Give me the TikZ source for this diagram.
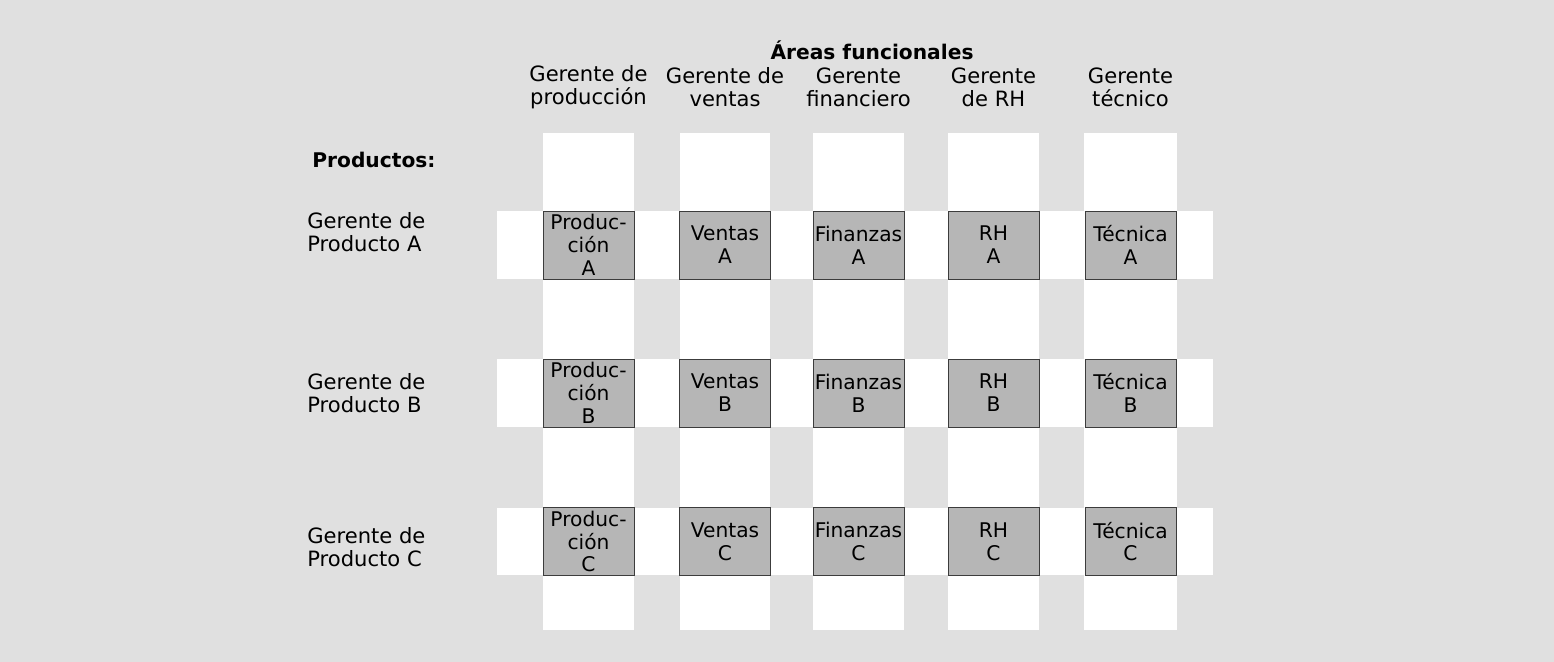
\documentclass[tikz,border=0pt]{standalone}
\usepackage{fontspec}
\setmainfont{DejaVu Sans}
\usetikzlibrary{positioning}
\definecolor{cBack}{RGB}{224,224,224}
\definecolor{cStrip}{RGB}{255,255,255}
\definecolor{cCell}{RGB}{182,182,182}
\definecolor{cCellBorder}{RGB}{60,60,60}

\begin{document}
\begin{tikzpicture}[x=0.02cm, y=-0.02cm,
        cell/.style={rectangle, draw=cCellBorder, fill=cCell, minimum width=1.82cm,
        minimum height=1.36cm, inner sep=0pt, align=center,
        font=\fontsize{11.5}{13}\selectfont},
        rowlabel/.style={anchor=west, align=left, inner sep=0pt,
        font=\fontsize{12}{13}\selectfont},
        colhead/.style={align=center, inner sep=0pt, font=\fontsize{12}{13}\selectfont},
        titletext/.style={inner sep=0pt, font=\fontsize{11.5}{13}\selectfont\bfseries}
    ]

        % background and the white grid of the matrix
        \fill[cBack] (0,0) rectangle (1554,662);
        \useasboundingbox (0,0) rectangle (1554,662);
        \fill[cStrip] (543,133) rectangle (634,630);
        \fill[cStrip] (680,133) rectangle (770,630);
        \fill[cStrip] (813,133) rectangle (904,630);
        \fill[cStrip] (948,133) rectangle (1039,630);
        \fill[cStrip] (1084,133) rectangle (1177,630);
        \fill[cStrip] (497,211) rectangle (1213,279);
        \fill[cStrip] (497,359) rectangle (1213,427);
        \fill[cStrip] (497,508) rectangle (1213,575);

        % --- heads ---
        \node[titletext] (areas) at (872,50) {Áreas funcionales};
        \node[colhead] (hProd) at (588.5,87) {Gerente de\\producción};
        \node[colhead] (hVent) at (725,87)   {Gerente de\\ventas};
        \node[colhead] (hFin)  at (858.5,87) {Gerente\\financiero};
        \node[colhead] (hRH)   at (993.5,87) {Gerente\\de RH};
        \node[colhead] (hTec)  at (1130.5,87) {Gerente\\técnico};

        \node[titletext, anchor=west] (productos) at (312,160) {Productos:};

        % --- Producto A ---
        \node[rowlabel] (gA) at (307,232) {Gerente de\\Producto A};
        \node[cell] (prodA) at (588.5,245) {Produc-\\ción\\A};
        \node[cell] (ventA) at (725,245)   {Ventas\\A};
        \node[cell] (finA)  at (858.5,245) {Finanzas\\A};
        \node[cell] (rhA)   at (993.5,245) {RH\\A};
        \node[cell] (tecA)  at (1130.5,245) {Técnica\\A};

        % --- Producto B ---
        \node[rowlabel] (gB) at (307,393) {Gerente de\\Producto B};
        \node[cell] (prodB) at (588.5,393) {Produc-\\ción\\B};
        \node[cell] (ventB) at (725,393)   {Ventas\\B};
        \node[cell] (finB)  at (858.5,393) {Finanzas\\B};
        \node[cell] (rhB)   at (993.5,393) {RH\\B};
        \node[cell] (tecB)  at (1130.5,393) {Técnica\\B};

        % --- Producto C ---
        \node[rowlabel] (gC) at (307,547) {Gerente de\\Producto C};
        \node[cell] (prodC) at (588.5,541.5) {Produc-\\ción\\C};
        \node[cell] (ventC) at (725,541.5)   {Ventas\\C};
        \node[cell] (finC)  at (858.5,541.5) {Finanzas\\C};
        \node[cell] (rhC)   at (993.5,541.5) {RH\\C};
        \node[cell] (tecC)  at (1130.5,541.5) {Técnica\\C};

    \end{tikzpicture}
\end{document}
